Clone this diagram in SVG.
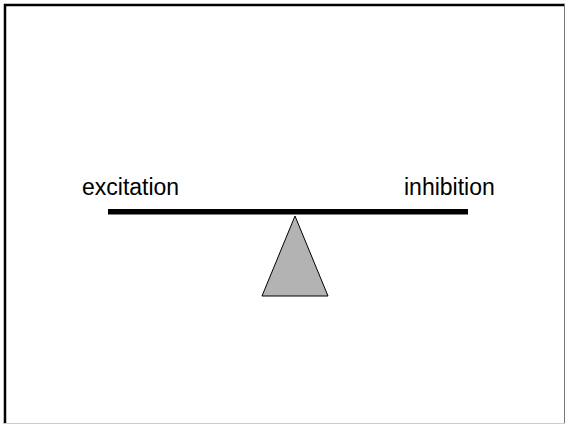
<svg xmlns="http://www.w3.org/2000/svg" width="565" height="424" viewBox="0 0 565 424">
<style>
.lbl{font-family:"Liberation Sans",Arial,sans-serif;font-size:23px;fill:#000}
</style>
<rect width="565" height="424" fill="#fff"/>
<g id="frame">
<line x1="5" y1="4" x2="5" y2="424" stroke="#000" stroke-width="2.5"/>
<line x1="4" y1="5" x2="565" y2="5" stroke="#000" stroke-width="2.5"/>
<line x1="564.5" y1="4" x2="564.5" y2="424" stroke="#777" stroke-width="1"/>
<line x1="4" y1="423.5" x2="565" y2="423.5" stroke="#ccc" stroke-width="1"/>
</g>
<g id="beam">
<rect x="108" y="209" width="360" height="5.5" fill="#000"/>
</g>
<g id="fulcrum">
<polygon points="295,216 262,296 328,296" fill="#b3b3b3" stroke="#000" stroke-width="1"/>
</g>
<g id="excitation"><text class="lbl" x="82" y="195">excitation</text></g>
<g id="inhibition"><text class="lbl" x="404" y="195">inhibition</text></g>
</svg>
